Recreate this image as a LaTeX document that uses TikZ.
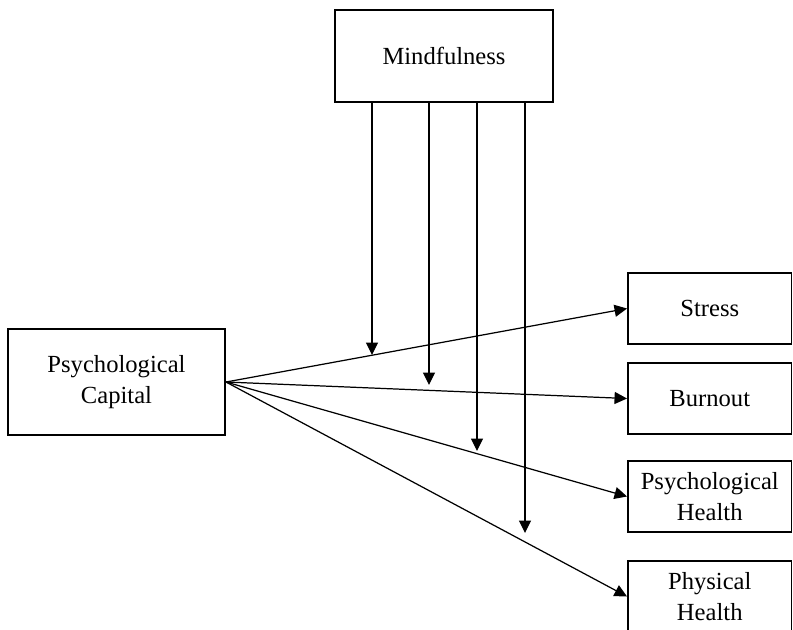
\documentclass[tikz,border=0pt]{standalone}
\usepackage{fontspec}
\setmainfont{Liberation Serif}
\usetikzlibrary{arrows.meta}

\begin{document}
\begin{tikzpicture}[
        box/.style={
            draw=black,
            fill=white,
            line width=1.1pt,
            inner sep=0pt,
            font=\fontsize{14pt}{17.5pt}\selectfont,
            align=center
          },
        outbox/.style={
            box,
            minimum width=3.27cm,
            minimum height=1.42cm
          },
        arr/.style={-{Triangle[length=0.25cm,width=0.24cm]}, black, line width=0.7pt}
      ]
      \useasboundingbox (0,0) rectangle (15.86,-12.58);

      \node[box, minimum width=4.36cm, minimum height=1.84cm] (mind) at (8.88,-1.12) {Mindfulness};
      \node[box, minimum width=4.34cm, minimum height=2.12cm] (psycap) at (2.33,-7.64) {Psychological\\Capital};

      \node[outbox] (stress) at (14.195,-6.17) {Stress};
      \node[outbox] (burnout) at (14.195,-7.97) {Burnout};
      \node[outbox] (pshealth) at (14.195,-9.93) {Psychological\\Health};
      \node[outbox] (physhealth) at (14.195,-11.93) {Physical\\Health};

      \draw[arr] (psycap.east) -- (stress.west);
      \draw[arr] (psycap.east) -- (burnout.west);
      \draw[arr] (psycap.east) -- (pshealth.west);
      \draw[arr] (psycap.east) -- (physhealth.west);

      % moderation arrows
      \coordinate (m1) at (7.44,-7.10);
      \coordinate (m2) at (8.58,-7.70);
      \coordinate (m3) at (9.54,-9.02);
      \coordinate (m4) at (10.50,-10.66);

      \draw[arr] (m1 |- mind.south) -- (m1);
      \draw[arr] (m2 |- mind.south) -- (m2);
      \draw[arr] (m3 |- mind.south) -- (m3);
      \draw[arr] (m4 |- mind.south) -- (m4);
    \end{tikzpicture}
\end{document}
